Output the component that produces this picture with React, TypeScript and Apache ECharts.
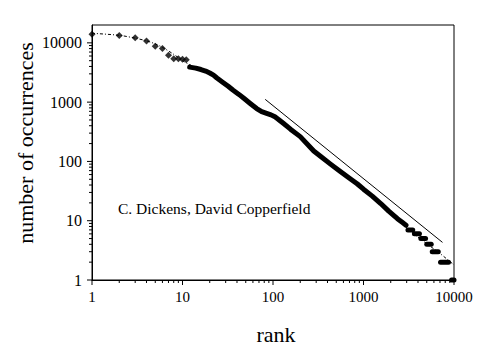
import React, { useEffect, useRef } from "react";
import * as echarts from "echarts";

// Individual high-frequency words (rank, count)
const topRanks = [1, 2, 3, 4, 5, 6, 7, 8, 9, 10, 11];
const topCounts = [14000, 13300, 12200, 10700, 8800, 8050, 6200, 5400, 5400, 5300, 5200];

// Dense band of data points (rank, count)
const bandRanks = [12, 14, 16, 18, 20, 22, 24, 28, 32, 36, 42, 48, 56, 66, 75, 85, 95, 105, 115, 130, 156, 200, 282, 340, 432, 550, 700, 850, 1000, 1250, 1550, 1900, 2370, 2700, 2950];
const bandCounts = [3900, 3750, 3550, 3350, 3100, 2850, 2550, 2150, 1850, 1600, 1350, 1150, 950, 780, 690, 645, 610, 565, 510, 440, 350, 262, 150, 120, 90, 68, 52, 42, 34, 26, 19.5, 14.5, 10.8, 9.3, 8.4];

// Integer-count plateaus at the tail
const plateauCounts = [7, 6, 5, 4, 3, 2, 1];
const plateauFrom = [3100, 3650, 4300, 5000, 5750, 7100, 9400];
const plateauTo = [3500, 4150, 4850, 5600, 6700, 8700, 10000];

// Fitted curve (dash-dot)
const fitRanks = [1, 2, 3, 4, 5, 6, 8, 10, 12, 15, 20, 30, 50, 80, 120, 200, 400, 1000, 2000, 4000, 7000, 10000];
const fitCounts = [14500, 13400, 12000, 10800, 9600, 8400, 6400, 5000, 4300, 3650, 2950, 1950, 1050, 680, 470, 260, 100, 34, 13, 5.3, 2.8, 1.8];

// Straight reference line
const refRanks = [82, 7460];
const refCounts = [1114, 4.31];

// Axis ticks
const majorTicks = [1, 10, 100, 1000, 10000];
const minorMultipliers = [2, 3, 4, 5, 6, 7, 8, 9];
const minorDecades = [1, 10, 100, 1000];
const minorTicks = minorDecades.flatMap((d) => minorMultipliers.map((m) => m * d));

const FONT = "Liberation Serif";

function tickSeries(values: number[], axis: "x" | "y", len: number) {
  return {
    type: "custom",
    silent: true,
    clip: false,
    data: values.map((v) => (axis === "x" ? [v, 1] : [1, v])),
    renderItem: (params: any, api: any) => {
      const p = api.coord([api.value(0), api.value(1)]);
      const shape =
        axis === "x"
          ? { x1: p[0], y1: p[1], x2: p[0], y2: p[1] + len }
          : { x1: p[0], y1: p[1], x2: p[0] - len, y2: p[1] };
      return { type: "line", shape, style: { stroke: "#000", lineWidth: 1 } };
    },
    z: 5,
  };
}

export default function App() {
  const ref = useRef<HTMLDivElement>(null);
  useEffect(() => {
    if (!ref.current) return;
    const chart = echarts.init(ref.current, undefined, { renderer: "svg" });
    const option: any = {
      animation: false,
      backgroundColor: "#fff",
      textStyle: { fontFamily: FONT },
      grid: {
        left: 92,
        right: 38,
        top: 25,
        bottom: 67,
        show: true,
        borderColor: "#000",
        borderWidth: 1,
        backgroundColor: "transparent",
      },
      xAxis: {
        type: "log",
        logBase: 10,
        min: 1,
        max: 10000,
        axisLine: { show: true, lineStyle: { color: "#000", width: 1 } },
        axisTick: { show: false },
        splitLine: { show: false },
        axisLabel: {
          color: "#000",
          fontFamily: FONT,
          fontSize: 15,
          margin: 9,
          formatter: (v: number) => String(Math.round(v)),
        },
      },
      yAxis: {
        type: "log",
        logBase: 10,
        min: 1,
        max: 20000,
        axisLine: { show: true, lineStyle: { color: "#000", width: 1 } },
        axisTick: { show: false },
        splitLine: { show: false },
        axisLabel: {
          color: "#000",
          fontFamily: FONT,
          fontSize: 16,
          margin: 10,
          showMaxLabel: false,
          formatter: (v: number) => (v > 15000 ? "" : String(Math.round(v))),
        },
      },
      graphic: [
        {
          type: "text",
          x: 276,
          y: 334,
          style: {
            text: "rank",
            fontFamily: FONT,
            fontSize: 22,
            fill: "#000",
            align: "center",
            verticalAlign: "middle",
          },
        },
        {
          type: "text",
          x: 25,
          y: 143,
          rotation: Math.PI / 2,
          style: {
            text: "number of occurrences",
            fontFamily: FONT,
            fontSize: 22,
            fill: "#000",
            align: "center",
            verticalAlign: "middle",
          },
        },
        {
          type: "text",
          x: 118,
          y: 208,
          style: {
            text: "C. Dickens, David Copperfield",
            fontFamily: FONT,
            fontSize: 15.5,
            fill: "#000",
            align: "left",
            verticalAlign: "middle",
          },
        },
      ],
      series: [
        {
          type: "line",
          data: fitRanks.map((r, i) => [r, fitCounts[i]]),
          symbol: "none",
          smooth: 0.3,
          clip: false,
          lineStyle: { color: "#000", width: 1, type: [3, 2, 1, 2] },
          z: 2,
        },
        {
          type: "line",
          data: refRanks.map((r, i) => [r, refCounts[i]]),
          symbol: "none",
          lineStyle: { color: "#000", width: 1 },
          z: 3,
        },
        {
          type: "line",
          data: bandRanks.map((r, i) => [r, bandCounts[i]]),
          symbol: "none",
          clip: false,
          lineStyle: { color: "#000", width: 5, cap: "round", join: "round" },
          z: 4,
        },
        ...plateauCounts.map((c, i) => ({
          type: "line",
          data: [
            [plateauFrom[i], c],
            [plateauTo[i], c],
          ],
          symbol: "none",
          clip: false,
          lineStyle: { color: "#000", width: 5, cap: "round" },
          z: 4,
        })),
        {
          type: "scatter",
          data: topRanks.map((r, i) => [r, topCounts[i]]),
          symbol: "diamond",
          symbolSize: 7,
          clip: false,
          itemStyle: { color: "#000" },
          z: 4,
        },
        tickSeries(majorTicks, "x", 5),
        tickSeries(minorTicks, "x", 3),
        tickSeries(majorTicks, "y", 5),
        tickSeries(minorTicks, "y", 3),
      ],
    };
    chart.setOption(option);
    return () => chart.dispose();
  }, []);
  return <div ref={ref} style={{ width: 492, height: 347, position: "absolute", left: 0, top: 0 }} />;
}
